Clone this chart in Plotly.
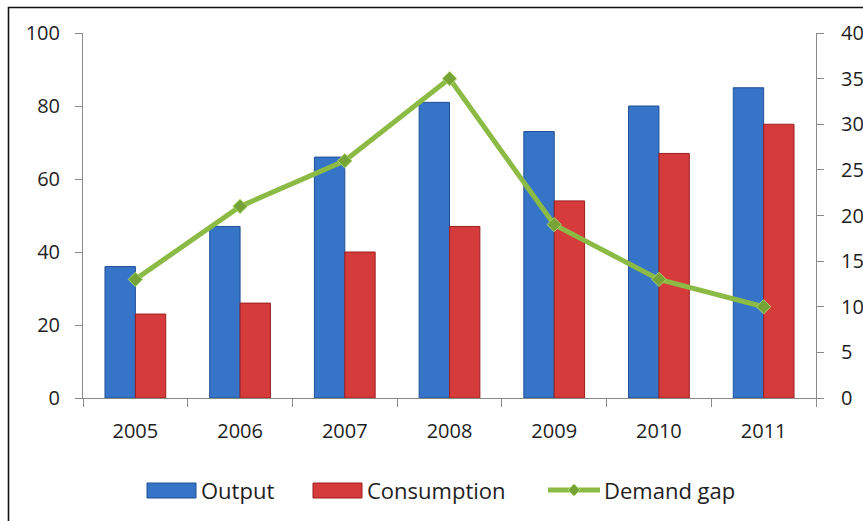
import plotly.graph_objects as go

years = ["2005", "2006", "2007", "2008", "2009", "2010", "2011"]
output = [36, 47, 66, 81, 73, 80, 85]
consumption = [23, 26, 40, 47, 54, 67, 75]
demand_gap = [13, 21, 26, 35, 19, 13, 10]

W, H = 863, 521
L, R, T, B = 83, 816, 33, 398  # plot area in pixels

def px(x):
    return (x - L) / (R - L)

def py(y):
    return (B - y) / (B - T)

FONT = "Open Sans"
TXT = "#1e1e1e"
AX = "#8a8a8a"
BLUE = "#3674c8"
BLUE_EDGE = "#1f4e96"
RED = "#d63b3b"
RED_EDGE = "#9c1f1f"
GREEN = "#8cbb45"
GREEN_DARK = "#76a336"

fig = go.Figure()
fig.add_trace(go.Bar(x=years, y=output, name="Output",
                     marker=dict(color=BLUE, line=dict(color=BLUE_EDGE, width=1))))
fig.add_trace(go.Bar(x=years, y=consumption, name="Consumption",
                     marker=dict(color=RED, line=dict(color=RED_EDGE, width=1))))
fig.add_trace(go.Scatter(x=years, y=demand_gap, name="Demand gap", yaxis="y2",
                         mode="lines+markers",
                         line=dict(color=GREEN, width=5),
                         marker=dict(symbol="diamond", size=11, color=GREEN_DARK,
                                     line=dict(color="#a9d46a", width=1))))

shapes = []
# outer border
shapes.append(dict(type="rect", xref="paper", yref="paper",
                   x0=px(8.5), x1=px(875), y0=py(7.5), y1=py(540),
                   line=dict(color="#111111", width=1.6), fillcolor="rgba(0,0,0,0)", layer="below"))

annotations = []
ly = 490
# legend: Output
shapes.append(dict(type="rect", xref="paper", yref="paper",
                   x0=px(147), x1=px(196), y0=py(483), y1=py(498),
                   line=dict(color=BLUE_EDGE, width=1), fillcolor=BLUE))
annotations.append(dict(text="Output", xref="paper", yref="paper", x=px(199), y=py(ly),
                        xanchor="left", yanchor="middle", showarrow=False,
                        font=dict(family=FONT, size=22, color=TXT)))
# legend: Consumption
shapes.append(dict(type="rect", xref="paper", yref="paper",
                   x0=px(313), x1=px(362), y0=py(483), y1=py(498),
                   line=dict(color=RED_EDGE, width=1), fillcolor=RED))
annotations.append(dict(text="Consumption", xref="paper", yref="paper", x=px(365), y=py(ly),
                        xanchor="left", yanchor="middle", showarrow=False,
                        font=dict(family=FONT, size=22, color=TXT)))
# legend: Demand gap
shapes.append(dict(type="line", xref="paper", yref="paper",
                   x0=px(548), x1=px(600), y0=py(ly), y1=py(ly),
                   line=dict(color=GREEN, width=5)))
dx, dy = 6, 6
cx, cy = 574, ly
path = "M {} {} L {} {} L {} {} L {} {} Z".format(
    px(cx - dx), py(cy), px(cx), py(cy - dy), px(cx + dx), py(cy), px(cx), py(cy + dy))
shapes.append(dict(type="path", xref="paper", yref="paper", path=path,
                   line=dict(color="#a9d46a", width=1), fillcolor=GREEN_DARK))
annotations.append(dict(text="Demand gap", xref="paper", yref="paper", x=px(602), y=py(ly),
                        xanchor="left", yanchor="middle", showarrow=False,
                        font=dict(family=FONT, size=22, color=TXT)))

fig.update_layout(
    width=W, height=H,
    margin=dict(l=L, r=W - R, t=T, b=H - B, pad=0, autoexpand=False),
    paper_bgcolor="white", plot_bgcolor="white",
    barmode="group", bargap=0.42, bargroupgap=0,
    showlegend=False,
    font=dict(family=FONT, size=20, color=TXT),
    xaxis=dict(type="category", showgrid=False, showline=True, linecolor=AX, linewidth=1,
               ticks="outside", ticklen=8, tickcolor=AX, tickson="boundaries",
               automargin=False,
               ticklabelstandoff=15, tickfont=dict(size=20, color=TXT)),
    yaxis=dict(range=[0, 100], dtick=20, showgrid=False, showline=True, linecolor=AX,
               linewidth=1, ticks="outside", ticklen=7, tickcolor=AX, zeroline=False,
               automargin=False,
               ticklabelstandoff=11, tickfont=dict(size=20, color=TXT)),
    yaxis2=dict(range=[0, 40], dtick=5, overlaying="y", side="right", showgrid=False,
                showline=True, linecolor=AX, linewidth=1, ticks="outside", ticklen=7,
                tickcolor=AX, zeroline=False, ticklabelstandoff=13, automargin=False,
                tickfont=dict(size=20, color=TXT)),
    shapes=shapes, annotations=annotations,
)

fig.write_html("out.html", config={"displayModeBar": False},
               post_script="document.body.style.margin='0';document.body.style.overflow='hidden';")
